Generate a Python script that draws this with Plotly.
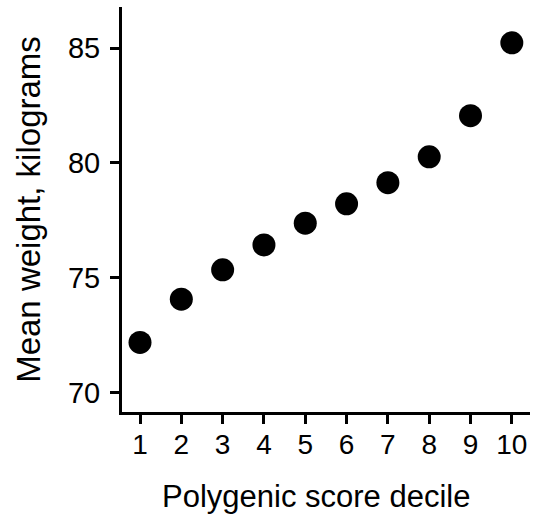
import plotly.graph_objects as go

# Mean body weight by polygenic score decile
deciles = [1, 2, 3, 4, 5, 6, 7, 8, 9, 10]
mean_weight_kg = [72.19, 74.07, 75.35, 76.43, 77.38, 78.22, 79.14, 80.27, 82.06, 85.23]

x_ticks = deciles
y_ticks = [70, 75, 80, 85]

font_family = "Liberation Sans, Arial, Helvetica, sans-serif"

fig = go.Figure(
    go.Scatter(
        x=deciles,
        y=mean_weight_kg,
        mode="markers",
        marker=dict(color="black", size=23, line=dict(width=0)),
        hoverinfo="x+y",
    )
)

axis_common = dict(
    showgrid=False,
    zeroline=False,
    showline=True,
    linecolor="black",
    linewidth=3,
    ticks="outside",
    ticklen=9,
    tickwidth=3,
    tickcolor="black",
    mirror=False,
)

fig.update_layout(
    width=534,
    height=517,
    margin=dict(l=122, r=4, t=7, b=105),
    paper_bgcolor="white",
    plot_bgcolor="white",
    showlegend=False,
    font=dict(family=font_family, color="black"),
    xaxis=dict(
        axis_common,
        range=[0.564, 10.44],
        tickmode="array",
        tickvals=x_ticks,
        ticktext=[str(v) for v in x_ticks],
        tickfont=dict(family=font_family, size=28, color="black"),
        ticklabelstandoff=-4,
    ),
    yaxis=dict(
        axis_common,
        range=[69.16, 86.79],
        tickmode="array",
        tickvals=y_ticks,
        ticktext=[str(v) for v in y_ticks],
        tickfont=dict(family=font_family, size=29, color="black"),
        ticklabelstandoff=4,
        title=dict(text="Mean weight, kilograms",
                   font=dict(family=font_family, size=33, color="black"),
                   standoff=18),
    ),
    # x-axis title placed as a paper annotation below the tick labels
    annotations=[
        dict(
            text="Polygenic score decile",
            xref="paper", yref="paper",
            x=0.475, y=-0.16,
            xanchor="center", yanchor="top",
            showarrow=False,
            font=dict(family=font_family, size=31, color="black"),
        )
    ],
)

fig.write_html("out.html")
